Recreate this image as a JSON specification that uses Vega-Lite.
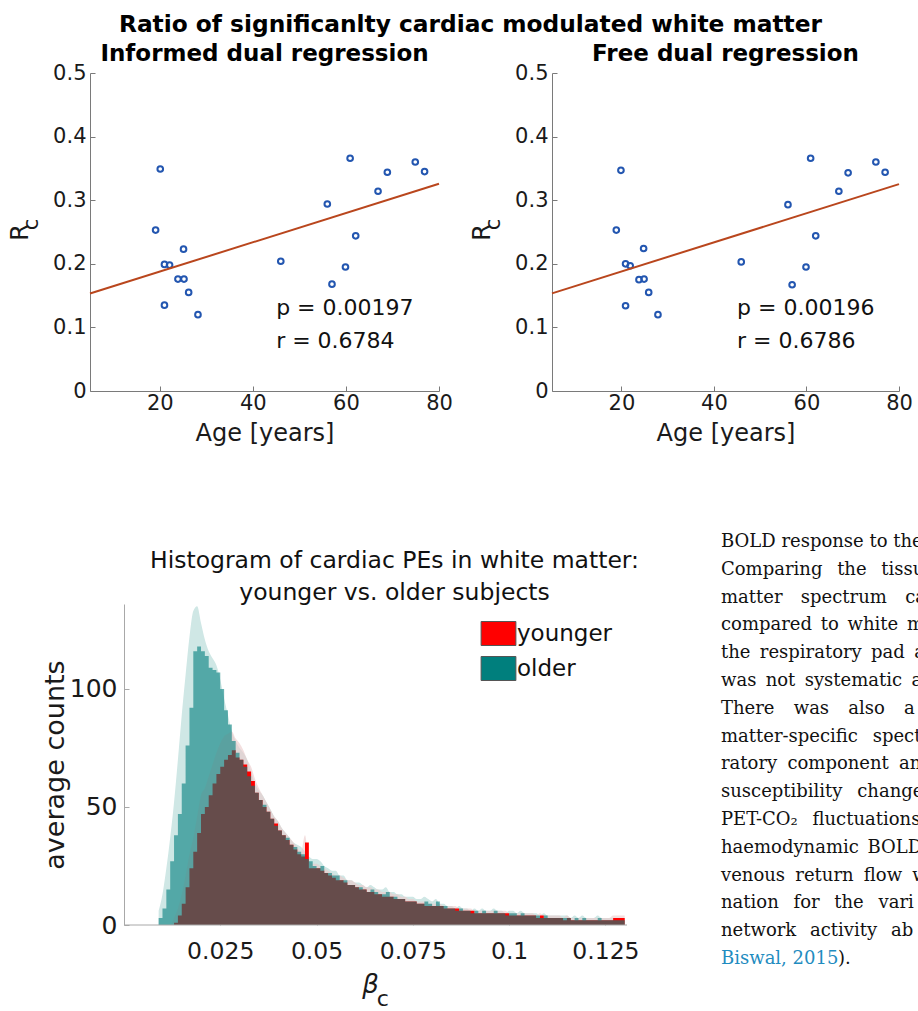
{
  "$schema": "https://vega.github.io/schema/vega-lite/v6.json",
  "padding": {"left": 8, "top": 12, "right": 0, "bottom": 0},
  "background": "white",
  "datasets": {
    "informed": [
      {"age": 20.1, "rc": 0.349}, {"age": 19.1, "rc": 0.253}, {"age": 25.1, "rc": 0.223}, {"age": 21.0, "rc": 0.199},
      {"age": 22.1, "rc": 0.198}, {"age": 23.9, "rc": 0.176}, {"age": 25.2, "rc": 0.176}, {"age": 26.2, "rc": 0.155},
      {"age": 21.0, "rc": 0.135}, {"age": 28.2, "rc": 0.120}, {"age": 46.0, "rc": 0.204}, {"age": 56.0, "rc": 0.294},
      {"age": 60.9, "rc": 0.366}, {"age": 62.1, "rc": 0.244}, {"age": 59.9, "rc": 0.195}, {"age": 57.0, "rc": 0.168},
      {"age": 66.9, "rc": 0.314}, {"age": 68.9, "rc": 0.344}, {"age": 74.9, "rc": 0.360}, {"age": 76.9, "rc": 0.345}
    ],
    "free": [
      {"age": 19.9, "rc": 0.347}, {"age": 18.9, "rc": 0.253}, {"age": 24.8, "rc": 0.224}, {"age": 20.9, "rc": 0.200},
      {"age": 21.9, "rc": 0.197}, {"age": 23.8, "rc": 0.175}, {"age": 24.9, "rc": 0.176}, {"age": 25.9, "rc": 0.155},
      {"age": 20.9, "rc": 0.134}, {"age": 27.9, "rc": 0.120}, {"age": 45.9, "rc": 0.203}, {"age": 56.0, "rc": 0.293},
      {"age": 60.9, "rc": 0.366}, {"age": 62.0, "rc": 0.244}, {"age": 59.9, "rc": 0.195}, {"age": 56.9, "rc": 0.167},
      {"age": 67.0, "rc": 0.314}, {"age": 69.0, "rc": 0.343}, {"age": 75.0, "rc": 0.360}, {"age": 77.0, "rc": 0.344}
    ],
    "hist": [
      {"b":0.009,"old":3,"young":0,"oldhi":6,"younghi":0},
      {"b":0.010,"old":7,"young":0,"oldhi":13,"younghi":0},
      {"b":0.011,"old":15,"young":0,"oldhi":24,"younghi":0},
      {"b":0.012,"old":27,"young":0,"oldhi":37,"younghi":0},
      {"b":0.013,"old":38,"young":1,"oldhi":52,"younghi":3},
      {"b":0.014,"old":47,"young":4,"oldhi":70,"younghi":7},
      {"b":0.015,"old":60,"young":9,"oldhi":89,"younghi":13},
      {"b":0.016,"old":76,"young":16,"oldhi":106,"younghi":21},
      {"b":0.017,"old":92,"young":24,"oldhi":122,"younghi":30},
      {"b":0.018,"old":116,"young":31,"oldhi":133,"younghi":37},
      {"b":0.019,"old":118,"young":39,"oldhi":135,"younghi":46},
      {"b":0.020,"old":116,"young":47,"oldhi":128,"younghi":55},
      {"b":0.021,"old":114,"young":50,"oldhi":121,"younghi":58},
      {"b":0.022,"old":109,"young":55,"oldhi":116,"younghi":63},
      {"b":0.023,"old":108,"young":60,"oldhi":113,"younghi":68},
      {"b":0.024,"old":107,"young":64,"oldhi":110,"younghi":73},
      {"b":0.025,"old":100,"young":67,"oldhi":104,"younghi":77},
      {"b":0.026,"old":91,"young":70,"oldhi":96,"younghi":80},
      {"b":0.027,"old":85,"young":72,"oldhi":89,"younghi":81},
      {"b":0.028,"old":78,"young":74,"oldhi":82,"younghi":82},
      {"b":0.029,"old":73,"young":71,"oldhi":78,"younghi":79},
      {"b":0.030,"old":70,"young":70,"oldhi":75,"younghi":77},
      {"b":0.031,"old":67,"young":68,"oldhi":73,"younghi":74},
      {"b":0.032,"old":63,"young":65,"oldhi":70,"younghi":70},
      {"b":0.033,"old":59,"young":61,"oldhi":65,"younghi":67},
      {"b":0.034,"old":56,"young":56,"oldhi":60,"younghi":62},
      {"b":0.035,"old":53,"young":53,"oldhi":57,"younghi":58},
      {"b":0.036,"old":51,"young":50,"oldhi":55,"younghi":55},
      {"b":0.037,"old":48,"young":48,"oldhi":52,"younghi":52},
      {"b":0.038,"old":45,"young":45,"oldhi":49,"younghi":49},
      {"b":0.039,"old":42,"young":43,"oldhi":46,"younghi":46},
      {"b":0.040,"old":40,"young":40,"oldhi":44,"younghi":44},
      {"b":0.041,"old":38,"young":38,"oldhi":41,"younghi":41},
      {"b":0.042,"old":37,"young":36,"oldhi":39,"younghi":39},
      {"b":0.043,"old":34,"young":34,"oldhi":37,"younghi":37},
      {"b":0.044,"old":33,"young":32,"oldhi":35,"younghi":35},
      {"b":0.045,"old":31,"young":30,"oldhi":34,"younghi":33},
      {"b":0.046,"old":30,"young":29,"oldhi":33,"younghi":31},
      {"b":0.047,"old":28,"young":35,"oldhi":31,"younghi":38},
      {"b":0.048,"old":27,"young":24,"oldhi":29,"younghi":27},
      {"b":0.049,"old":25,"young":24,"oldhi":28,"younghi":26},
      {"b":0.050,"old":24,"young":24,"oldhi":28,"younghi":26},
      {"b":0.051,"old":25,"young":23,"oldhi":27,"younghi":25},
      {"b":0.052,"old":22,"young":22,"oldhi":25,"younghi":24},
      {"b":0.053,"old":22,"young":21,"oldhi":24,"younghi":23},
      {"b":0.054,"old":21,"young":20,"oldhi":23,"younghi":22},
      {"b":0.055,"old":21,"young":19,"oldhi":23,"younghi":21},
      {"b":0.056,"old":19,"young":19,"oldhi":21,"younghi":21},
      {"b":0.057,"old":19,"young":18,"oldhi":21,"younghi":20},
      {"b":0.058,"old":17,"young":17,"oldhi":19,"younghi":19},
      {"b":0.059,"old":17,"young":17,"oldhi":19,"younghi":19},
      {"b":0.060,"old":16,"young":16,"oldhi":18,"younghi":18},
      {"b":0.061,"old":16,"young":15,"oldhi":18,"younghi":17},
      {"b":0.062,"old":15,"young":15,"oldhi":17,"younghi":17},
      {"b":0.063,"old":14,"young":14,"oldhi":16,"younghi":16},
      {"b":0.064,"old":15,"young":14,"oldhi":17,"younghi":16},
      {"b":0.065,"old":14,"young":13,"oldhi":16,"younghi":15},
      {"b":0.066,"old":13,"young":13,"oldhi":15,"younghi":15},
      {"b":0.067,"old":13,"young":12,"oldhi":15,"younghi":14},
      {"b":0.068,"old":14,"young":12,"oldhi":16,"younghi":14},
      {"b":0.069,"old":12,"young":12,"oldhi":14,"younghi":14},
      {"b":0.070,"old":12,"young":11,"oldhi":14,"younghi":13},
      {"b":0.071,"old":11,"young":11,"oldhi":13,"younghi":13},
      {"b":0.072,"old":11,"young":11,"oldhi":13,"younghi":12},
      {"b":0.073,"old":10,"young":10,"oldhi":12,"younghi":12},
      {"b":0.074,"old":10,"young":10,"oldhi":12,"younghi":11},
      {"b":0.075,"old":10,"young":10,"oldhi":12,"younghi":11},
      {"b":0.076,"old":9,"young":9,"oldhi":11,"younghi":10},
      {"b":0.077,"old":9,"young":9,"oldhi":11,"younghi":10},
      {"b":0.078,"old":10,"young":8,"oldhi":12,"younghi":10},
      {"b":0.079,"old":9,"young":8,"oldhi":11,"younghi":9},
      {"b":0.080,"old":8,"young":8,"oldhi":10,"younghi":9},
      {"b":0.081,"old":10,"young":8,"oldhi":11,"younghi":9},
      {"b":0.082,"old":8,"young":8,"oldhi":9,"younghi":9},
      {"b":0.083,"old":8,"young":7,"oldhi":9,"younghi":8},
      {"b":0.084,"old":7,"young":7,"oldhi":8,"younghi":8},
      {"b":0.085,"old":7,"young":7,"oldhi":8,"younghi":8},
      {"b":0.086,"old":6,"young":7,"oldhi":7,"younghi":8},
      {"b":0.087,"old":7,"young":6,"oldhi":8,"younghi":7},
      {"b":0.088,"old":6,"young":6,"oldhi":7,"younghi":7},
      {"b":0.089,"old":6,"young":6,"oldhi":7,"younghi":7},
      {"b":0.090,"old":5,"young":6,"oldhi":6,"younghi":7},
      {"b":0.091,"old":6,"young":5,"oldhi":7,"younghi":6},
      {"b":0.092,"old":5,"young":5,"oldhi":6,"younghi":6},
      {"b":0.093,"old":6,"young":5,"oldhi":7,"younghi":6},
      {"b":0.094,"old":5,"young":5,"oldhi":6,"younghi":6},
      {"b":0.095,"old":5,"young":5,"oldhi":6,"younghi":6},
      {"b":0.096,"old":6,"young":5,"oldhi":7,"younghi":6},
      {"b":0.097,"old":5,"young":5,"oldhi":6,"younghi":6},
      {"b":0.098,"old":5,"young":5,"oldhi":6,"younghi":6},
      {"b":0.099,"old":4,"young":5,"oldhi":5,"younghi":6},
      {"b":0.100,"old":5,"young":4,"oldhi":6,"younghi":5},
      {"b":0.101,"old":5,"young":4,"oldhi":6,"younghi":5},
      {"b":0.102,"old":4,"young":4,"oldhi":5,"younghi":5},
      {"b":0.103,"old":5,"young":4,"oldhi":6,"younghi":5},
      {"b":0.104,"old":4,"young":4,"oldhi":5,"younghi":5},
      {"b":0.105,"old":4,"young":4,"oldhi":5,"younghi":5},
      {"b":0.106,"old":4,"young":4,"oldhi":5,"younghi":5},
      {"b":0.107,"old":4,"young":3,"oldhi":5,"younghi":4},
      {"b":0.108,"old":3,"young":4,"oldhi":4,"younghi":5},
      {"b":0.109,"old":4,"young":3,"oldhi":5,"younghi":4},
      {"b":0.110,"old":3,"young":3,"oldhi":4,"younghi":4},
      {"b":0.111,"old":3,"young":3,"oldhi":4,"younghi":4},
      {"b":0.112,"old":3,"young":3,"oldhi":4,"younghi":4},
      {"b":0.113,"old":3,"young":3,"oldhi":4,"younghi":4},
      {"b":0.114,"old":3,"young":2,"oldhi":4,"younghi":3},
      {"b":0.115,"old":3,"young":3,"oldhi":4,"younghi":4},
      {"b":0.116,"old":2,"young":2,"oldhi":3,"younghi":3},
      {"b":0.117,"old":3,"young":2,"oldhi":4,"younghi":3},
      {"b":0.118,"old":2,"young":2,"oldhi":3,"younghi":3},
      {"b":0.119,"old":3,"young":2,"oldhi":4,"younghi":3},
      {"b":0.120,"old":2,"young":2,"oldhi":3,"younghi":3},
      {"b":0.121,"old":2,"young":2,"oldhi":3,"younghi":3},
      {"b":0.122,"old":2,"young":2,"oldhi":3,"younghi":3},
      {"b":0.123,"old":3,"young":2,"oldhi":4,"younghi":3},
      {"b":0.124,"old":2,"young":2,"oldhi":3,"younghi":3},
      {"b":0.125,"old":2,"young":2,"oldhi":3,"younghi":3},
      {"b":0.126,"old":2,"young":2,"oldhi":3,"younghi":3},
      {"b":0.127,"old":2,"young":3,"oldhi":3,"younghi":4},
      {"b":0.128,"old":2,"young":3,"oldhi":3,"younghi":4},
      {"b":0.129,"old":2,"young":3,"oldhi":3,"younghi":4},
      {"b":0.130,"old":2,"young":3,"oldhi":3,"younghi":4}
    ],
    "page": [
      {"line": 1, "text": "BOLD response to the"},
      {"line": 2, "text": "Comparing \u2002the \u2002tissu"},
      {"line": 3, "text": "matter \u2002\u2009spectrum \u2002\u2009ca"},
      {"line": 4, "text": "compared\u2006 to\u2006 white\u2006 m"},
      {"line": 5, "text": "the\u2009 respiratory\u2009 pad\u2009 a"},
      {"line": 6, "text": "was\u2009 not\u2009 systematic\u2009 a"},
      {"line": 7, "text": "There \u2002\u2005was \u2002\u2005also \u2002\u2005a"},
      {"line": 8, "text": "matter-specific\u2002 spect"},
      {"line": 9, "text": "ratory\u2005 component\u2005 an"},
      {"line": 10, "text": "susceptibility\u2002 change"},
      {"line": 11, "text": "PET-CO\u2082\u2002 fluctuations"},
      {"line": 12, "text": "haemodynamic\u2006 BOLD"},
      {"line": 13, "text": "venous \u2005return \u2005flow \u2005w"},
      {"line": 14, "text": "nation \u2002for \u2002the \u2002vari"},
      {"line": 15, "text": "network \u2009\u2005activity \u2009\u2005ab"}
    ]
  },
  "config": {
    "font": "DejaVu Sans",
    "view": {"stroke": null},
    "axis": {"grid": false, "domainColor": "#7a7a7a", "tickColor": "#7a7a7a", "labelColor": "#1a1a1a", "titleColor": "#1a1a1a", "titleFontWeight": "normal", "labelFlush": false, "labelOverlap": false, "tickSize": -5},
    "title": {"color": "#000"}
  },
  "resolve": {"scale": {"color": "independent"}, "legend": {"color": "independent"}},
  "vconcat": [
    {
      "title": {"text": "Ratio of significanlty cardiac modulated white matter", "fontSize": 23.3, "fontWeight": "bold", "anchor": "middle", "offset": 6, "dx": 10, "color": "#000"},
      "hconcat": [
        {
          "width": 349, "height": 318,
          "title": {"text": "Informed dual regression", "fontSize": 23, "fontWeight": "bold", "offset": -4},
          "data": {"name": "informed"},
          "layer": [
            {
              "mark": {"type": "point", "shape": "circle", "filled": false, "strokeWidth": 2, "size": 32, "color": "#2356b0", "opacity": 1},
              "encoding": {
                "x": {"field": "age", "type": "quantitative", "scale": {"domain": [5, 80], "nice": false, "zero": false}, "title": "Age [years]",
                  "axis": {"values": [20, 40, 60, 80], "labelFontSize": 21, "titleFontSize": 24, "labelPadding": 6, "titlePadding": 8}},
                "y": {"field": "rc", "type": "quantitative", "scale": {"domain": [0, 0.5], "nice": false}, "title": "R",
                  "axis": {"values": [0, 0.1, 0.2, 0.3, 0.4, 0.5], "format": ".1~f", "labelFontSize": 21, "titleFontSize": 24, "labelPadding": 9, "titlePadding": 20}}
              }
            },
            {
              "transform": [{"regression": "rc", "on": "age", "extent": [5, 80]}],
              "mark": {"type": "line", "color": "#b9461d", "strokeWidth": 2},
              "encoding": {"x": {"field": "age", "type": "quantitative"}, "y": {"field": "rc", "type": "quantitative"}}
            },
            {
              "data": {"values": [{"note": "stats"}]},
              "mark": {"type": "text", "text": ["p = 0.00197", "r = 0.6784"], "align": "left", "baseline": "middle", "fontSize": 22, "lineHeight": 33, "color": "#111"},
              "encoding": {"x": {"datum": 45, "type": "quantitative"}, "y": {"datum": 0.131, "type": "quantitative"}}
            },
            {
              "data": {"values": [{"note": "subscript"}]},
              "mark": {"type": "text", "text": "c", "angle": 270, "align": "center", "baseline": "middle", "fontSize": 21, "color": "#1a1a1a"},
              "encoding": {"x": {"datum": -7.46, "type": "quantitative"}, "y": {"datum": 0.262, "type": "quantitative"}}
            }
          ]
        },
        {
          "width": 347, "height": 318,
          "title": {"text": "Free dual regression", "fontSize": 23, "fontWeight": "bold", "offset": -4},
          "data": {"name": "free"},
          "layer": [
            {
              "mark": {"type": "point", "shape": "circle", "filled": false, "strokeWidth": 2, "size": 32, "color": "#2356b0", "opacity": 1},
              "encoding": {
                "x": {"field": "age", "type": "quantitative", "scale": {"domain": [5, 80], "nice": false, "zero": false}, "title": "Age [years]",
                  "axis": {"values": [20, 40, 60, 80], "labelFontSize": 21, "titleFontSize": 24, "labelPadding": 6, "titlePadding": 8}},
                "y": {"field": "rc", "type": "quantitative", "scale": {"domain": [0, 0.5], "nice": false}, "title": "R",
                  "axis": {"values": [0, 0.1, 0.2, 0.3, 0.4, 0.5], "format": ".1~f", "labelFontSize": 21, "titleFontSize": 24, "labelPadding": 9, "titlePadding": 20}}
              }
            },
            {
              "transform": [{"regression": "rc", "on": "age", "extent": [5, 80]}],
              "mark": {"type": "line", "color": "#b9461d", "strokeWidth": 2},
              "encoding": {"x": {"field": "age", "type": "quantitative"}, "y": {"field": "rc", "type": "quantitative"}}
            },
            {
              "data": {"values": [{"note": "stats"}]},
              "mark": {"type": "text", "text": ["p = 0.00196", "r = 0.6786"], "align": "left", "baseline": "middle", "fontSize": 22, "lineHeight": 33, "color": "#111"},
              "encoding": {"x": {"datum": 45, "type": "quantitative"}, "y": {"datum": 0.131, "type": "quantitative"}}
            },
            {
              "data": {"values": [{"note": "subscript"}]},
              "mark": {"type": "text", "text": "c", "angle": 270, "align": "center", "baseline": "middle", "fontSize": 21, "color": "#1a1a1a"},
              "encoding": {"x": {"datum": -7.46, "type": "quantitative"}, "y": {"datum": 0.262, "type": "quantitative"}}
            }
          ]
        }
      ],
      "spacing": 17
    },
    {
      "resolve": {"scale": {"color": "independent"}, "legend": {"color": "independent"}},
      "hconcat": [
        {
          "width": 537, "height": 321,
          "data": {"name": "hist"},
          "title": {"text": ["Histogram of cardiac PEs in white matter:", "younger vs. older subjects"], "fontSize": 23.5, "fontWeight": "normal", "color": "#111", "lineHeight": 32, "anchor": "middle", "dx": 36, "offset": 0},
          "layer": [
            {
              "mark": {"type": "area", "color": "#cfe7e5", "interpolate": "monotone"},
              "encoding": {
                "x": {"field": "b", "type": "quantitative", "scale": {"domain": [-0.00882, 0.1306], "nice": false, "zero": false}, "title": "\u03b2",
                  "axis": {"values": [0.025, 0.05, 0.075, 0.1, 0.125], "format": ".3~f", "domain": false, "labelFontSize": 23.5, "labelPadding": 19, "titleFontSize": 26, "titleFontStyle": "italic", "titlePadding": 9, "titleX": 280, "tickColor": "#a8a8a8"}},
                "y": {"field": "oldhi", "type": "quantitative", "scale": {"domain": [0, 136], "nice": false}, "title": "average counts",
                  "axis": {"values": [0, 50, 100], "offset": -34, "labelFontSize": 25, "titleFontSize": 27, "labelPadding": 12, "titlePadding": 0, "domainColor": "#a8a8a8", "tickColor": "#a8a8a8"}}
              }
            },
            {
              "mark": {"type": "area", "color": "#ebcaca", "opacity": 0.6, "interpolate": "monotone"},
              "encoding": {"x": {"field": "b", "type": "quantitative"}, "y": {"field": "younghi", "type": "quantitative"}}
            },
            {
              "mark": {"type": "area", "interpolate": "step-after"},
              "encoding": {
                "x": {"field": "b", "type": "quantitative"},
                "y": {"field": "young", "type": "quantitative"},
                "color": {"datum": "younger", "scale": {"domain": ["younger", "older"], "range": ["#ff0000", "#007f7d"]},
                  "legend": {"orient": "none", "legendX": 396, "legendY": 17, "padding": 0, "title": null, "labelFontSize": 23, "labelColor": "#111", "symbolType": "M-1.45,-1H1.45V1H-1.45Z", "symbolSize": 576, "symbolOpacity": 1, "symbolStrokeColor": "#555", "symbolStrokeWidth": 1, "rowPadding": 6, "labelOffset": 6,
                    "encode": {"symbols": {"update": {"opacity": {"value": 1}, "fillOpacity": {"value": 1}}}}}}
              }
            },
            {
              "mark": {"type": "area", "interpolate": "step-after", "opacity": 0.6},
              "encoding": {
                "x": {"field": "b", "type": "quantitative"},
                "y": {"field": "old", "type": "quantitative"},
                "color": {"datum": "older"}
              }
            },
            {
              "data": {"values": [{"note": "baseline"}]},
              "mark": {"type": "rule", "color": "#a8a8a8", "strokeWidth": 1},
              "encoding": {"x": {"datum": 0, "type": "quantitative"}, "x2": {"datum": 0.1306}, "y": {"datum": 0, "type": "quantitative"}}
            },
            {
              "data": {"values": [{"note": "subscript"}]},
              "mark": {"type": "text", "text": "c", "align": "center", "baseline": "middle", "fontSize": 22, "color": "#1a1a1a"},
              "encoding": {"x": {"datum": 0.0672, "type": "quantitative"}, "y": {"datum": -31.4, "type": "quantitative"}}
            }
          ]
        },
        {
          "width": 248, "height": 460,
          "layer": [
            {
              "data": {"name": "page"},
              "mark": {"type": "text", "align": "left", "baseline": "middle", "font": "DejaVu Serif", "fontSize": 18, "color": "#111"},
              "encoding": {
                "x": {"datum": 0, "type": "quantitative", "scale": {"domain": [-61, 187], "nice": false, "zero": false}, "axis": null},
                "y": {"field": "line", "type": "quantitative", "scale": {"domain": [3.23, 19.777], "reverse": true, "nice": false, "zero": false}, "axis": null},
                "text": {"field": "text"}
              }
            },
            {
              "data": {"values": [{"line": 16, "text": "Biswal, 2015"}]},
              "mark": {"type": "text", "align": "left", "baseline": "middle", "font": "DejaVu Serif", "fontSize": 18, "color": "#1f8cc0"},
              "encoding": {"x": {"datum": 0, "type": "quantitative"}, "y": {"field": "line", "type": "quantitative"}, "text": {"field": "text"}}
            },
            {
              "data": {"values": [{"line": 16, "text": ")."}]},
              "mark": {"type": "text", "align": "left", "baseline": "middle", "font": "DejaVu Serif", "fontSize": 18, "color": "#111", "dx": 117},
              "encoding": {"x": {"datum": 0, "type": "quantitative"}, "y": {"field": "line", "type": "quantitative"}, "text": {"field": "text"}}
            }
          ]
        }
      ],
      "spacing": 20
    }
  ],
  "spacing": 88
}
